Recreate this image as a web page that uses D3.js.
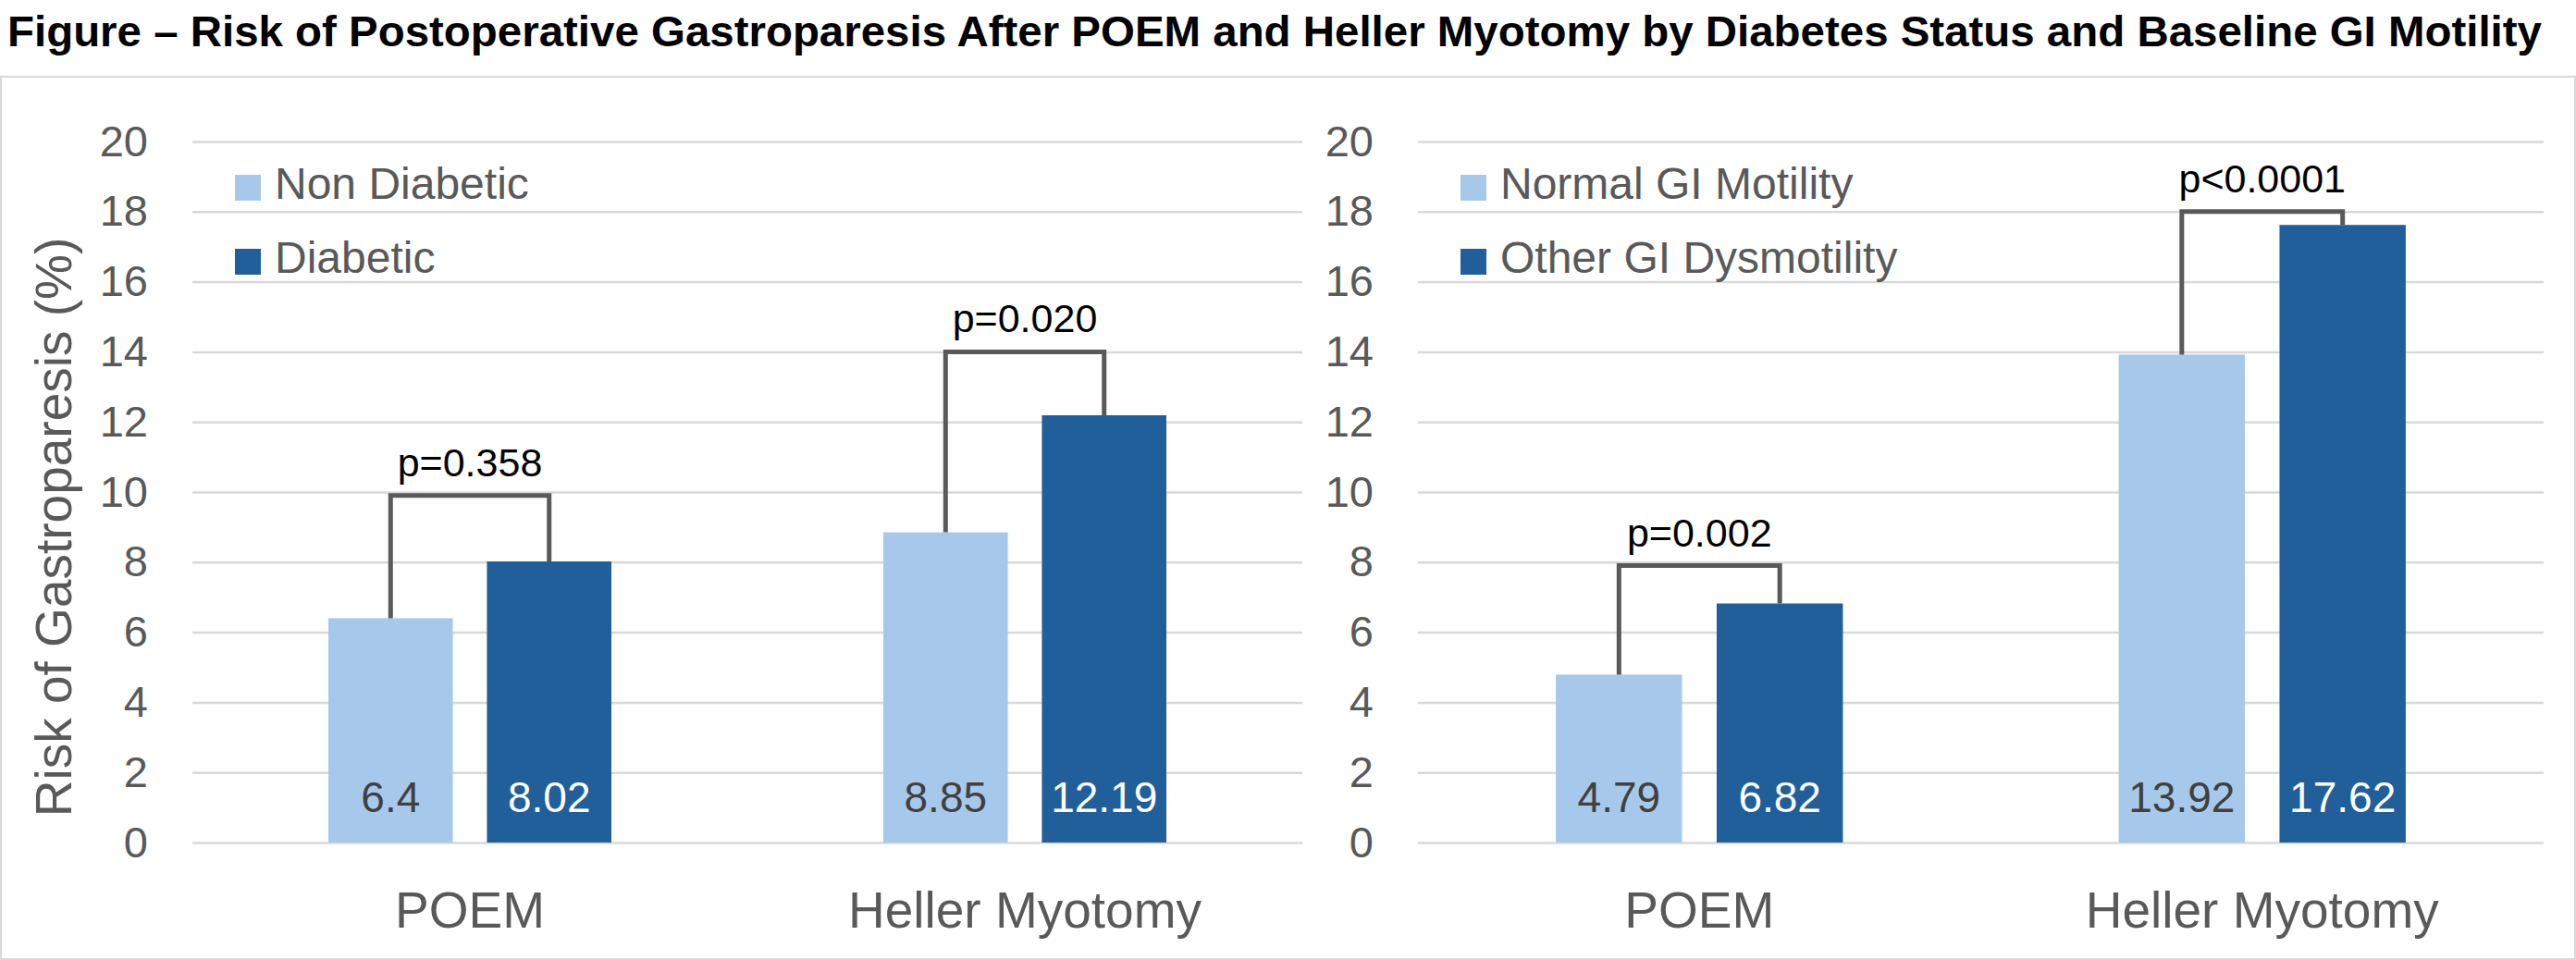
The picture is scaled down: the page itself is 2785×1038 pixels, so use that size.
<!DOCTYPE html>
<html>
<head>
<meta charset="utf-8">
<script src="https://cdn.jsdelivr.net/npm/d3@7"></script>
<style>
  html, body { margin: 0; padding: 0; background: #ffffff; }
  svg { display: block; }
  text { font-family: "Liberation Sans", Arial, sans-serif; }
</style>
</head>
<body>
<svg id="chart" width="2785" height="1038"></svg>
<script>
// ---------------- data ----------------
const titleText = "Figure \u2013 Risk of Postoperative Gastroparesis After POEM and Heller Myotomy by Diabetes Status and Baseline GI Motility";
const yAxisTitle = "Risk of Gastroparesis (%)";
const categories = ["POEM", "Heller Myotomy"];
const yTicks = [0, 2, 4, 6, 8, 10, 12, 14, 16, 18, 20];

const diabetesSeries = ["Non Diabetic", "Diabetic"];
const nonDiabetic = [6.4, 8.85];
const diabetic = [8.02, 12.19];
const diabetesPLabels = ["p=0.358", "p=0.020"];
const diabetesBracketTop = [9.9, 14];

const motilitySeries = ["Normal GI Motility", "Other GI Dysmotility"];
const normalMotility = [4.79, 13.92];
const otherDysmotility = [6.82, 17.62];
const motilityPLabels = ["p=0.002", "p<0.0001"];
const motilityBracketTop = [7.9, 18];

// ---------------- style ----------------
const colors = ["#A6C9EB", "#215F9A"];
const labelColors = ["#404040", "#FFFFFF"];
const grey = "#595959";
const gridColor = "#D9D9D9";

const svg = d3.select("#chart");

// outer frame
svg.append("rect")
  .attr("x", 1).attr("y", 83)
  .attr("width", 2783).attr("height", 954)
  .attr("fill", "none").attr("stroke", gridColor).attr("stroke-width", 2);

// title
svg.append("text")
  .attr("x", 1378).attr("y", 50)
  .attr("text-anchor", "middle")
  .attr("font-size", 47)
  .attr("font-weight", "bold")
  .attr("fill", "#000")
  .attr("textLength", 2740)
  .attr("lengthAdjust", "spacingAndGlyphs")
  .text(titleText);

// y axis title (left panel only)
svg.append("text")
  .attr("transform", "translate(77,570) rotate(-90)")
  .attr("text-anchor", "middle")
  .attr("font-size", 55)
  .attr("fill", grey)
  .text(yAxisTitle);

const y = d3.scaleLinear().domain([0, 20]).range([911, 153]);

function drawPanel(opts) {
  const { x0, x1, series, values, pLabels, bracketTop } = opts;
  const g = svg.append("g");
  const x = d3.scaleBand().domain(categories).range([x0, x1]).padding(0);
  const bw = x.bandwidth();
  const sub = d3.scaleBand().domain([0, 1])
    .range([bw * 0.245, bw * 0.755]).paddingInner(0.215).paddingOuter(0);

  // gridlines
  g.append("g")
    .attr("transform", `translate(${x0},0)`)
    .call(d3.axisLeft(y).tickValues(yTicks).tickSize(-(x1 - x0)).tickFormat(""))
    .call(s => s.select(".domain").remove())
    .call(s => s.selectAll("line").attr("stroke", gridColor).attr("stroke-width", 2.5));

  // tick labels
  g.append("g")
    .attr("transform", `translate(${x0},0)`)
    .call(d3.axisLeft(y).tickValues(yTicks).tickSize(0).tickPadding(48))
    .call(s => s.select(".domain").remove())
    .call(s => s.selectAll("text")
      .attr("font-family", "Liberation Sans, Arial, sans-serif")
      .attr("font-size", 47).attr("fill", grey));

  // bars
  const rows = [];
  categories.forEach((c, ci) => {
    values.forEach((arr, si) => rows.push({ c, ci, si, v: arr[ci] }));
  });
  const bx = d => x(d.c) + sub(d.si);
  g.selectAll("rect.bar").data(rows).join("rect")
    .attr("class", "bar")
    .attr("x", bx)
    .attr("y", d => y(d.v))
    .attr("width", sub.bandwidth())
    .attr("height", d => y(0) - y(d.v))
    .attr("fill", d => colors[d.si]);

  // value labels
  g.selectAll("text.val").data(rows).join("text")
    .attr("class", "val")
    .attr("x", d => bx(d) + sub.bandwidth() / 2)
    .attr("y", y(0) - 33)
    .attr("text-anchor", "middle")
    .attr("font-size", 46)
    .attr("fill", d => labelColors[d.si])
    .text(d => d.v);

  // brackets
  categories.forEach((c, ci) => {
    const xl = x(c) + sub(0) + sub.bandwidth() / 2;
    const xr = x(c) + sub(1) + sub.bandwidth() / 2;
    const top = y(bracketTop[ci]);
    const path = d3.path();
    path.moveTo(xl, y(values[0][ci]));
    path.lineTo(xl, top);
    path.lineTo(xr, top);
    path.lineTo(xr, y(values[1][ci]));
    g.append("path")
      .attr("d", path.toString())
      .attr("fill", "none")
      .attr("stroke", grey)
      .attr("stroke-width", 5)
      .attr("stroke-linejoin", "miter");
    g.append("text")
      .attr("x", x(c) + bw / 2)
      .attr("y", top - 21)
      .attr("text-anchor", "middle")
      .attr("font-size", 43)
      .attr("fill", "#000")
      .text(pLabels[ci]);
  });

  // category labels
  g.selectAll("text.cat").data(categories).join("text")
    .attr("class", "cat")
    .attr("x", d => x(d) + bw / 2)
    .attr("y", 1003)
    .attr("text-anchor", "middle")
    .attr("font-size", 55)
    .attr("fill", grey)
    .text(d => d);

  // legend
  const lg = g.append("g").attr("transform", `translate(${x0 + 46},0)`);
  series.forEach((s, i) => {
    lg.append("rect")
      .attr("x", 0).attr("y", 189 + i * 80)
      .attr("width", 28).attr("height", 28)
      .attr("fill", colors[i]);
    lg.append("text")
      .attr("x", 43).attr("y", 215 + i * 80)
      .attr("font-size", 48)
      .attr("fill", grey)
      .text(s);
  });
}

drawPanel({
  x0: 208, x1: 1408,
  series: diabetesSeries,
  values: [nonDiabetic, diabetic],
  pLabels: diabetesPLabels,
  bracketTop: diabetesBracketTop
});

drawPanel({
  x0: 1533, x1: 2750,
  series: motilitySeries,
  values: [normalMotility, otherDysmotility],
  pLabels: motilityPLabels,
  bracketTop: motilityBracketTop
});
</script>
</body>
</html>
